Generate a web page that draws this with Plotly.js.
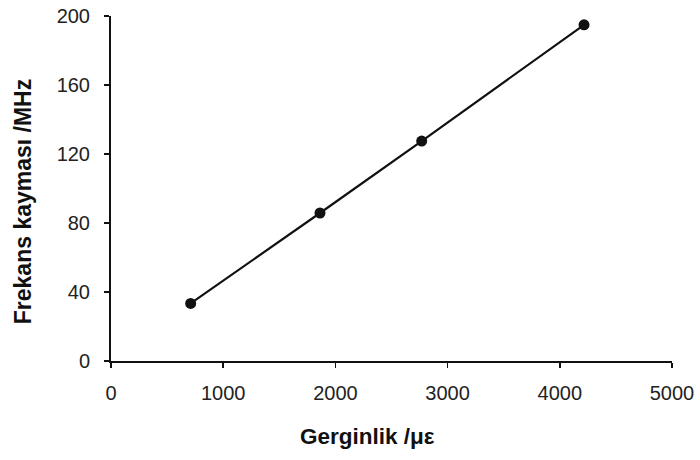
<!DOCTYPE html>
<html>
<head>
<meta charset="utf-8">
<script src="https://cdn.plot.ly/plotly-3.0.1.min.js"></script>
<style>html,body{margin:0;padding:0;background:#fff;}#chart{width:700px;height:460px;}</style>
</head>
<body>
<div id="chart"></div>
<script>
const strain = [710, 1863, 2769, 4216];
const freqShift = [33.4, 85.8, 127.5, 194.9];
const xTicks = [0, 1000, 2000, 3000, 4000, 5000];
const yTicks = [0, 40, 80, 120, 160, 200];
const xTitle = 'Gerginlik /με';
const yTitle = 'Frekans kayması /MHz';

const trace = {
  x: strain, y: freqShift, type: 'scatter', mode: 'lines+markers',
  line: {color: '#111', width: 2.2},
  marker: {color: '#111', size: 11},
  showlegend: false, cliponaxis: false
};
const fontFam = '"Liberation Sans", Arial, sans-serif';
const L = 111, R = 672, T = 15.5, B = 361;
const W = R - L, H = B - T;
const layout = {
  width: 700, height: 460,
  margin: {l: L, r: 700 - R, t: T, b: 460 - B},
  paper_bgcolor: '#fff', plot_bgcolor: '#fff',
  font: {family: fontFam, size: 20, color: '#111'},
  xaxis: {
    range: [0, 5000], tickvals: xTicks, ticktext: xTicks.map(String),
    showgrid: false, zeroline: false, showline: true, linecolor: '#111', linewidth: 1.6,
    ticks: 'outside', ticklen: 5, tickwidth: 1.5, tickcolor: '#111',
    tickfont: {family: fontFam, size: 20, color: '#222'}, ticklabelstandoff: 8
  },
  yaxis: {
    range: [0, 200], tickvals: yTicks, ticktext: yTicks.map(String),
    showgrid: false, zeroline: false, showline: true, linecolor: '#111', linewidth: 2,
    ticks: 'outside', ticklen: 5, tickwidth: 1.5, tickcolor: '#111',
    tickfont: {family: fontFam, size: 20, color: '#222'}, ticklabelstandoff: 10
  },
  annotations: [
    {text: xTitle, xref: 'paper', yref: 'paper', x: (367 - L) / W, y: -(437 - B) / H,
     showarrow: false, xanchor: 'center', yanchor: 'middle',
     font: {family: fontFam, size: 22.5, color: '#111', weight: 'bold'}},
    {text: yTitle, xref: 'paper', yref: 'paper', x: -(L - 23) / W, y: (B - 202) / H,
     showarrow: false, xanchor: 'center', yanchor: 'middle', textangle: -90,
     font: {family: fontFam, size: 23, color: '#111', weight: 'bold'}}
  ]
};
Plotly.newPlot('chart', [trace], layout, {displayModeBar: false, staticPlot: true});
</script>
</body>
</html>
